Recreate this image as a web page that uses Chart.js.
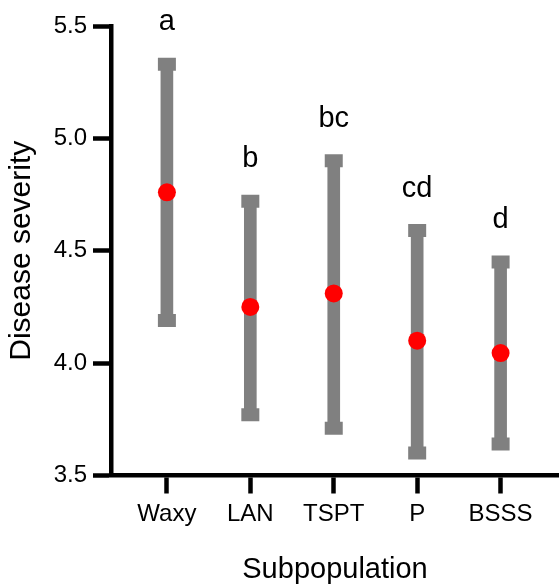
<!DOCTYPE html>
<html>
<head>
<meta charset="utf-8">
<script src="https://cdn.jsdelivr.net/npm/chart.js@4.4.1/dist/chart.umd.min.js"></script>
<style>
  html, body { margin: 0; padding: 0; background: #fff; }
  #wrap { width: 559px; height: 584px; }
</style>
</head>
<body>
<div id="wrap"><canvas id="chart" width="559" height="584"></canvas></div>
<script>
// data
const CATS = ['Waxy', 'LAN', 'TSPT', 'P', 'BSSS'];
const MEAN = [4.76, 4.25, 4.31, 4.10, 4.045];
const HIGH = [5.33, 4.72, 4.90, 4.59, 4.45];
const LOW  = [4.19, 3.77, 3.71, 3.60, 3.64];
const GROUPS = ['a', 'b', 'bc', 'cd', 'd'];
const Y_TICKS = [3.5, 4.0, 4.5, 5.0, 5.5];

const FONT = '"Liberation Sans", Arial, Helvetica, sans-serif';
const GRAY = '#808080';

// letters above each upper cap
const groupLetters = {
  id: 'groupLetters',
  afterDatasetsDraw(chart) {
    const {ctx, scales} = chart;
    ctx.save();
    ctx.font = '29px ' + FONT;
    ctx.fillStyle = '#000';
    ctx.textAlign = 'center';
    ctx.textBaseline = 'alphabetic';
    GROUPS.forEach((g, i) => {
      const x = scales.x.getPixelForValue(i);
      const y = scales.y.getPixelForValue(HIGH[i]) - 34;
      ctx.fillText(g, x, y);
    });
    ctx.restore();
  }
};

const caps = [];
CATS.forEach((c, i) => { caps.push({x: i, y: HIGH[i]}); caps.push({x: i, y: LOW[i]}); });

new Chart(document.getElementById('chart'), {
  type: 'scatter',
  data: {
    datasets: [
      {
        type: 'bar',
        data: CATS.map((c, i) => ({x: i, y: [LOW[i], HIGH[i]]})),
        backgroundColor: GRAY,
        borderWidth: 0,
        barThickness: 12,
        order: 3
      },
      {
        type: 'scatter',
        data: caps,
        pointStyle: 'line',
        pointRadius: 9,
        pointBorderWidth: 13,
        borderColor: GRAY,
        pointBorderColor: GRAY,
        order: 2
      },
      {
        type: 'scatter',
        data: CATS.map((c, i) => ({x: i, y: MEAN[i]})),
        pointRadius: 9,
        pointBackgroundColor: '#ff0000',
        pointBorderWidth: 0,
        order: 1
      }
    ]
  },
  options: {
    responsive: false,
    animation: false,
    events: [],
    // autoPadding off, otherwise the fat cap markers add 22px on the right
    layout: { autoPadding: false, padding: { top: 26, right: 0, left: 0, bottom: 0 } },
    plugins: { legend: { display: false }, tooltip: { enabled: false } },
    scales: {
      x: {
        type: 'linear',
        min: -0.67,
        max: 4.7,
        offset: false,
        afterBuildTicks: s => { s.ticks = CATS.map((c, i) => ({value: i})); },
        afterFit: s => { s.height = 108.5; s.paddingLeft = 0; s.paddingRight = 0; },
        ticks: {
          callback: v => CATS[v],
          color: '#000',
          font: { family: FONT, size: 24, lineHeight: 1.2 },
          padding: 6,
          maxRotation: 0,
          autoSkip: false
        },
        grid: { display: true, offset: false, drawOnChartArea: false, drawTicks: true, tickLength: 18, tickWidth: 4.5, tickColor: '#000', color: '#000' },
        border: { display: true, width: 4.5, color: '#000' },
        title: { display: true, text: 'Subpopulation', color: '#000', font: { family: FONT, size: 29, lineHeight: 1 }, padding: { top: 0, bottom: 0 } }
      },
      y: {
        min: 3.5,
        max: 5.5,
        afterBuildTicks: s => { s.ticks = Y_TICKS.map(v => ({value: v})); },
        afterFit: s => { s.width = 111; },
        ticks: {
          callback: v => Number(v).toFixed(1),
          color: '#000',
          font: { family: FONT, size: 24, lineHeight: 1.2 },
          padding: 6
        },
        grid: { display: true, drawOnChartArea: false, drawTicks: true, tickLength: 18, tickWidth: 4.5, tickColor: '#000', color: '#000' },
        border: { display: true, width: 4.5, color: '#000' },
        title: { display: true, text: 'Disease severity', color: '#000', font: { family: FONT, size: 30, lineHeight: 1 }, padding: { top: 7, bottom: 0 } }
      }
    }
  },
  plugins: [groupLetters]
});
</script>
</body>
</html>
